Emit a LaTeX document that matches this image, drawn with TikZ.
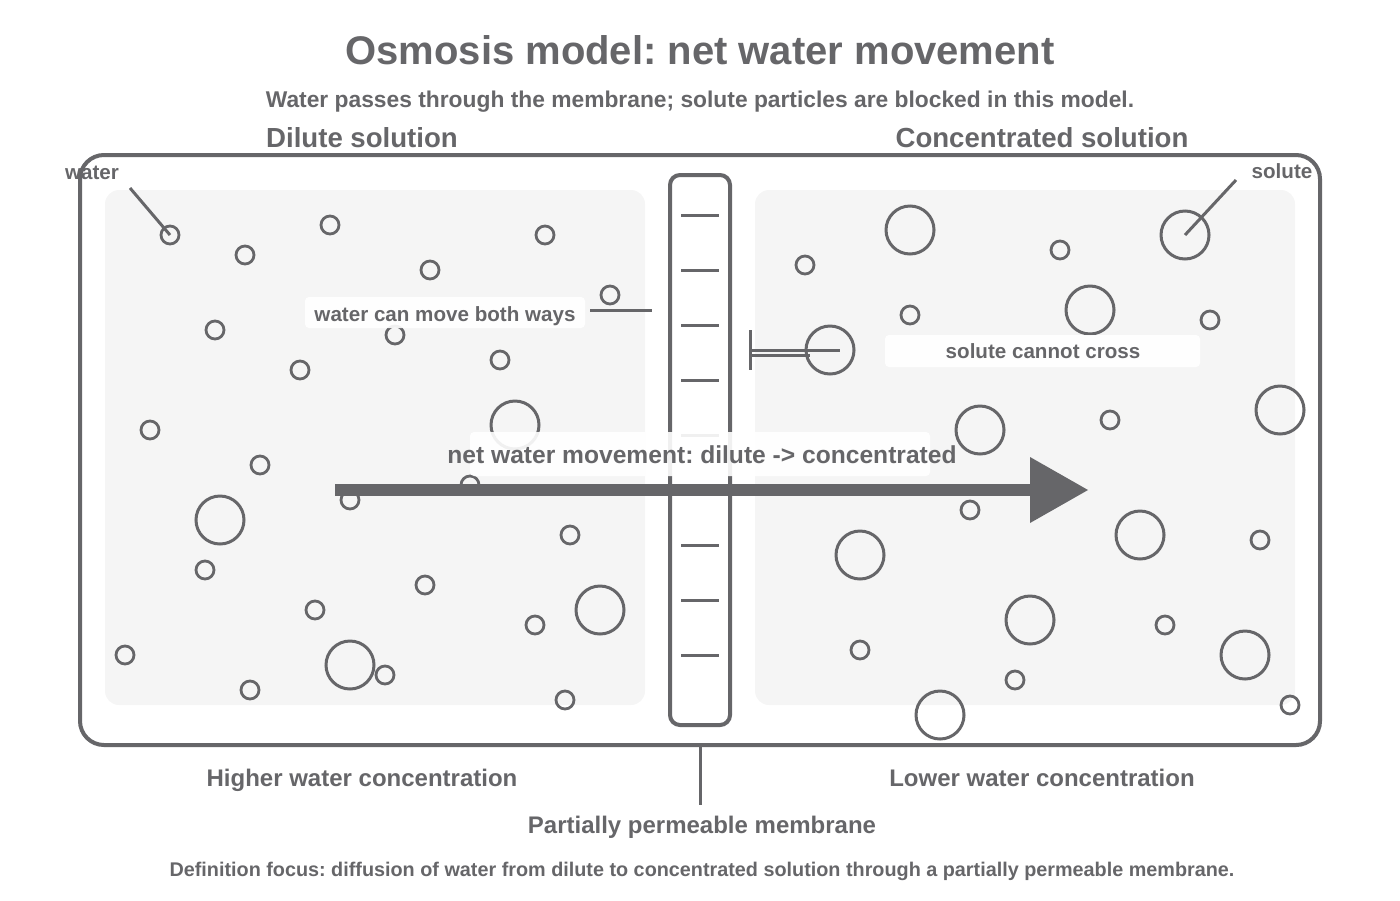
\documentclass[tikz,border=0pt]{standalone}
\usepackage{fontspec}
\setmainfont{Liberation Sans}
\frenchspacing
\begin{document}
\begin{tikzpicture}[x=0.5pt,y=-0.5pt,
  ink/.style={draw=g, line width=1.5pt},
  wat/.style={circle, draw=g, line width=1.4pt, minimum size=9pt, inner sep=0pt},
  sol/.style={circle, draw=g, line width=1.5pt, minimum size=24pt, inner sep=0pt},
  box/.style={fill=white, fill opacity=0.9, rounded corners=2pt},
  txt/.style={text=g, font=\bfseries, text depth=0pt}]
\definecolor{g}{HTML}{666669}
\definecolor{pan}{HTML}{F5F5F5}
\useasboundingbox (0,0) rectangle (1400,900);
\node[txt, font=\bfseries\fontsize{20}{22}\selectfont] (title) at (700,50) {Osmosis model: net water movement};
\node[txt, font=\bfseries\fontsize{11.4}{13}\selectfont] (sub) at (700,99) {Water passes through the membrane; solute particles are blocked in this model.};
\node[txt, font=\bfseries\fontsize{13.8}{16}\selectfont] (dil) at (362,137) {Dilute solution};
\node[txt, font=\bfseries\fontsize{13.8}{16}\selectfont] (con) at (1042,137) {Concentrated solution};
\draw[ink, line width=2pt, rounded corners=12pt] (80,155) rectangle (1320,745);
\fill[pan, rounded corners=7pt] (105,190) rectangle (645,705);
\fill[pan, rounded corners=7pt] (755,190) rectangle (1295,705);
\draw[ink, line width=2pt, rounded corners=5pt] (670,175) rectangle (730,725);
\foreach \y in {215,270,325,380,435,490,545,600,655} \draw[ink] (681,\y) -- (719,\y);
\foreach \x/\y [count=\i] in {170/235,245/255,330/225,430/270,545/235,610/295,215/330,395/335,300/370,500/360,150/430,260/465,470/485,350/500,570/535,205/570,425/585,315/610,535/625,125/655,385/675,250/690,565/700,805/265,1060/250,910/315,1210/320,1110/420,970/510,1260/540,860/650,1165/625,1015/680,1290/705}
  \node[wat] (w\i) at (\x,\y) {};
\foreach \x/\y [count=\i] in {515/425,220/520,600/610,350/665,910/230,1185/235,1090/310,830/350,980/430,1280/410,1140/535,860/555,1030/620,1245/655,940/715}
  \node[sol] (s\i) at (\x,\y) {};
% labels
\fill[box] (305,297) rectangle (585,328);
\node[txt, font=\bfseries\fontsize{10.3}{12}\selectfont] (both) at (445,314) {water can move both ways};
\coordinate (b0) at (590,310); \coordinate (bm) at (652,310);
\draw[ink] (b0) -- (bm);
\fill[box] (885,335) rectangle (1200,367);
\node[txt, font=\bfseries\fontsize{10.3}{12}\selectfont] (cross) at (1043,351) {solute cannot cross};
\coordinate (bar1) at (750,330); \coordinate (bar2) at (750,370);
\draw[ink] (bar1) -- (bar2);
\draw[ink] (752,350) -- (840,350);
\draw[ink] (752,355) -- (810,355);
% arrow
\fill[box] (470,432) rectangle (930,476);
\node[txt, font=\bfseries\fontsize{12.3}{14}\selectfont] (net) at (702,455) {net water movement: dilute -> concentrated};
\coordinate (a0) at (335,490); \coordinate (a1) at (1032,490);
\draw[g, line width=6pt] (a0) -- (a1);
\fill[g] (1030,457) -- (1088,490) -- (1030,523) -- cycle;
% pointers
\node[txt, font=\bfseries\fontsize{10.3}{12}\selectfont] (wl) at (92,173) {water};
\draw[ink] (130,188) -- (w1.center);
\node[txt, font=\bfseries\fontsize{10.3}{12}\selectfont] (sl) at (1282,171) {solute};
\draw[ink] (1236,180) -- (s6.center);
\node[txt, font=\bfseries\fontsize{12}{14}\selectfont] (hi) at (362,778) {Higher water concentration};
\node[txt, font=\bfseries\fontsize{12}{14}\selectfont] (lo) at (1042,778) {Lower water concentration};
\node[txt, font=\bfseries\fontsize{12}{14}\selectfont] (pm) at (702,825) {Partially permeable membrane};
\coordinate (m0) at (700,745); \coordinate (m1) at (700,805);
\draw[ink] (m0) -- (m1);
\node[txt, font=\bfseries\fontsize{9.9}{12}\selectfont] (foot) at (702,869) {Definition focus: diffusion of water from dilute to concentrated solution through a partially permeable membrane.};
\end{tikzpicture}
\end{document}
